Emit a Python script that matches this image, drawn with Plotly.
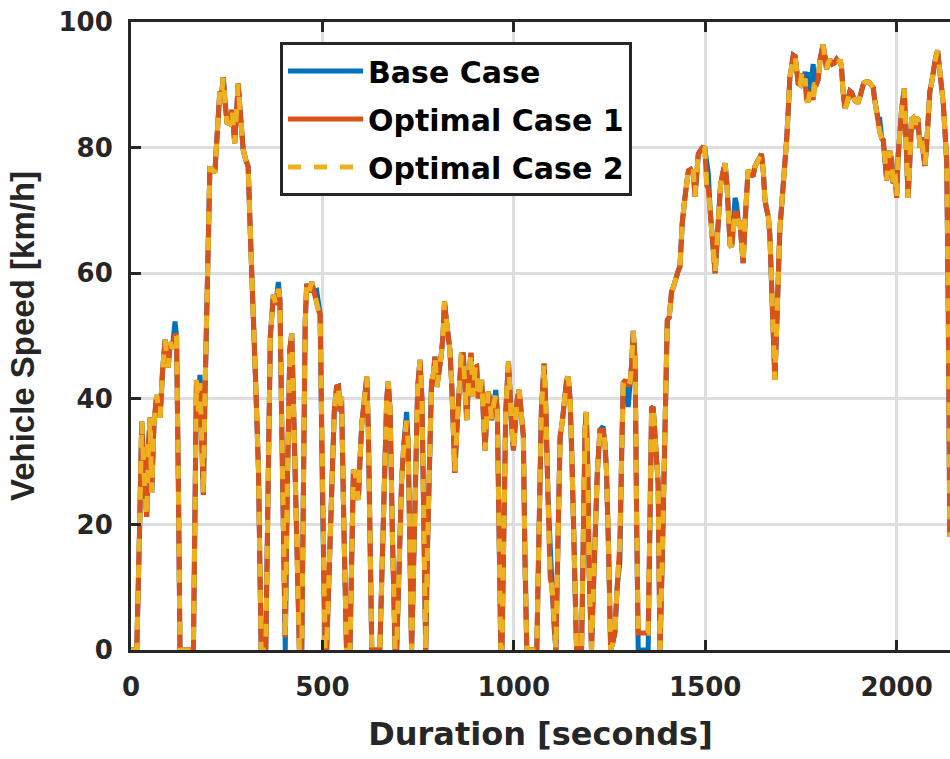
import plotly.graph_objects as go

# Drive-cycle speed trace (time in s, speed in km/h)
time_s = [
    0, 15, 22, 28, 34, 41, 46, 50, 54, 60, 67, 72, 76, 82, 89, 93, 97, 103, 108, 115,
    119, 124, 128, 163, 167, 171, 176, 180, 184, 189, 193, 198, 202, 206, 212, 219, 225, 232, 236, 241,
    246, 251, 258, 264, 271, 276, 280, 285, 293, 300, 306, 312, 319, 326, 333, 340, 352, 358, 364, 372,
    378, 385, 389, 394, 400, 403, 408, 415, 420, 424, 428, 434, 440, 446, 451, 455, 459, 465, 472, 478,
    485, 490, 494, 500, 507, 511, 518, 525, 531, 537, 542, 546, 550, 556, 563, 572, 577, 581, 586, 590,
    594, 598, 603, 610, 616, 620, 625, 629, 650, 656, 663, 668, 672, 677, 683, 690, 694, 699, 707, 713,
    720, 724, 726, 729, 733, 737, 743, 749, 755, 760, 765, 770, 774, 780, 785, 790, 794, 799, 805, 810,
    815, 819, 823, 828, 833, 838, 842, 846, 852, 858, 863, 868, 872, 877, 882, 888, 894, 899, 903, 907,
    911, 916, 920, 925, 929, 933, 937, 942, 947, 953, 957, 960, 964, 966, 969, 973, 979, 986, 990, 995,
    999, 1004, 1009, 1014, 1019, 1025, 1029, 1034, 1060, 1066, 1072, 1079, 1084, 1089, 1095, 1100, 1106, 1110, 1113, 1117,
    1121, 1126, 1132, 1138, 1142, 1147, 1152, 1158, 1164, 1177, 1181, 1186, 1189, 1193, 1197, 1203, 1207, 1212, 1218, 1225,
    1233, 1238, 1242, 1248, 1253, 1258, 1264, 1270, 1277, 1282, 1286, 1292, 1299, 1304, 1308, 1312, 1317, 1321, 1325, 1351,
    1356, 1360, 1364, 1370, 1377, 1380, 1382, 1388, 1395, 1401, 1406, 1412, 1418, 1424, 1430, 1434, 1440, 1447, 1452, 1456,
    1462, 1466, 1469, 1473, 1477, 1482, 1486, 1493, 1499, 1504, 1508, 1513, 1518, 1523, 1526, 1531, 1536, 1540, 1546, 1552,
    1557, 1561, 1565, 1569, 1574, 1578, 1582, 1587, 1591, 1595, 1599, 1604, 1608, 1612, 1617, 1621, 1625, 1630, 1634, 1640,
    1647, 1652, 1656, 1661, 1665, 1669, 1673, 1678, 1682, 1686, 1691, 1695, 1700, 1704, 1709, 1713, 1717, 1721, 1726, 1730,
    1735, 1739, 1743, 1748, 1752, 1756, 1761, 1765, 1769, 1774, 1778, 1782, 1786, 1790, 1795, 1800, 1808, 1813, 1817, 1821,
    1826, 1832, 1838, 1843, 1848, 1852, 1856, 1860, 1865, 1869, 1874, 1878, 1882, 1887, 1891, 1895, 1900, 1904, 1909, 1914,
    1921, 1926, 1930, 1934, 1939, 1943, 1947, 1952, 1956, 1961, 1965, 1970, 1974, 1978, 1982, 1987, 1991, 1996, 2000, 2004,
    2008, 2013, 2020, 2025, 2030, 2034, 2039, 2043, 2048, 2052, 2056, 2061, 2065, 2070, 2074, 2078, 2083, 2087, 2092, 2096,
    2101, 2107, 2112, 2117, 2122, 2126, 2131, 2135, 2139,
]

speed_base = [
    0, 0, 18, 36.4, 28, 21.2, 33, 37, 25, 36, 40.6, 38, 37, 44, 49.4, 47, 45, 49, 48, 52.3,
    50, 25, 0, 0, 20, 43, 38, 43.8, 35, 24.7, 40, 55, 65.4, 76.6, 76.5, 76, 82, 88.9, 88, 91.2,
    87, 84, 83.8, 86, 80.7, 86, 90.2, 86, 79.7, 78, 77, 66, 55.9, 42, 28.7, 0, 0, 28, 50, 56.6,
    55, 58.6, 55.9, 35, 0, 0, 25, 48, 50.4, 40, 30, 12, 0, 0, 30, 52, 58.3, 57, 58.6, 57,
    57.2, 54, 53.5, 25, 0, 0, 12, 28, 38, 41.9, 42, 38, 40.3, 20, 0, 0, 15, 28.7, 28, 26,
    23.9, 30, 36.1, 40, 43.5, 35, 15, 0, 0, 15, 32, 40, 42.7, 38, 18, 0, 0, 12, 27, 33,
    37.9, 33, 25, 12, 0, 10, 30, 42, 46.2, 40, 20, 0, 15, 35, 42.5, 44, 46.7, 41.9, 44, 46.7,
    50, 55.5, 53, 50, 47.8, 42, 34, 28.2, 36, 43, 47, 47, 42, 36.6, 43, 47.3, 40.3, 45, 45.1, 40.1,
    41, 43, 38, 31.8, 37, 41.1, 40, 36.6, 39, 41.4, 38, 22, 5, 0, 0, 20, 38, 45.9, 40, 35,
    31.8, 36, 40, 41.4, 37, 34, 15, 0, 0, 18, 38, 45.6, 38, 25, 14, 10, 3, 0, 10, 25,
    34, 36, 40, 43, 43.5, 40, 30, 12, 0, 0, 20, 35, 37.9, 30, 12, 0, 8, 20.2, 28, 35,
    35.6, 33, 28.7, 15, 0, 1, 2.7, 10, 14, 32, 42.5, 43, 38.7, 42.8, 45.6, 50.8, 46, 20, 0, 0,
    25, 38.5, 38.7, 33, 26.6, 10, 0, 15, 38, 52.5, 53, 57, 58, 59.5, 60.5, 61, 68, 72, 75.5, 76.3,
    76.5, 76, 76.5, 72.2, 75, 79, 79.4, 80, 79.9, 76.5, 76, 70, 66, 61, 60, 65, 70, 74, 76, 77.5,
    74, 68, 64.5, 64.2, 68, 72, 71, 68, 68, 64, 61.6, 68, 73.5, 76.4, 76, 75.5, 75.4, 77, 77.5, 78,
    79, 76, 71.7, 70, 69, 66, 58, 50, 43, 50, 60, 67, 71, 74, 77, 81.5, 86, 91, 93, 94.7,
    94.5, 92, 90.2, 90, 91.8, 90, 92.1, 87.6, 87.3, 92, 91, 93.3, 90, 90, 90.8, 94, 96.4, 94.5, 92.5, 93.5,
    94, 93.3, 93.5, 94, 93.5, 94, 92.9, 89, 86.3, 86.8, 88.5, 89, 88.8, 87.8, 87.5, 87.3, 87.3, 88, 89.5, 90.3,
    90.5, 90.5, 90.3, 90, 89.5, 87.5, 85.5, 84.5, 84.5, 81.5, 81.2, 78, 74.8, 77, 79.5, 78, 74.3, 76, 72, 78.6,
    82, 86, 89.4, 80, 72, 77, 84.5, 84.7, 83, 84.8, 84.5, 80, 81.6, 79, 77.1, 80, 85, 89, 90.5, 92.5,
    94, 95.5, 93, 90, 87, 83, 77.5, 54, 18,
]

# Speeds (km/h) where the optimised runs depart from the base run
optimal_speed_at = {
    115: 50.3, 180: 42.5, 385: 57.5, 400: 2, 403: 2, 485: 55, 720: 36.5,
    953: 40.5, 1095: 11.5, 1233: 35, 1277: 17, 1299: 42, 1325: 2.7, 1351: 2.7,
    1504: 74, 1508: 73.5, 1578: 69.6, 1582: 69.6, 1761: 91, 1774: 89,
    1778: 88, 1782: 87.6, 1952: 84, 1956: 82.5,
}
speed_opt1 = [optimal_speed_at.get(t, v) for t, v in zip(time_s, speed_base)]
speed_opt2 = list(speed_opt1)

series_names = ["Base Case", "Optimal Case 1", "Optimal Case 2"]
x_ticks = [0, 500, 1000, 1500, 2000]
y_ticks = [0, 20, 40, 60, 80, 100]

AXIS_COLOR = "#262626"
GRID_COLOR = "#DEDEDE"

fig = go.Figure()
fig.add_trace(go.Scatter(
    x=time_s, y=speed_base, mode="lines", name=series_names[0],
    line=dict(color="#0072BD", width=5), legendgroup="a",
))
fig.add_trace(go.Scatter(
    x=time_s, y=speed_opt1, mode="lines", name=series_names[1],
    line=dict(color="#D95319", width=5), legendgroup="b",
))
fig.add_trace(go.Scatter(
    x=time_s, y=speed_opt2, mode="lines", name=series_names[2],
    line=dict(color="#EDB120", width=5, dash="13px,13px"), legendgroup="c",
))

tick_font = dict(family="DejaVu Sans", size=26, color=AXIS_COLOR, weight="bold")

fig.update_layout(
    width=950, height=759,
    margin=dict(l=131, r=0, t=22, b=109, autoexpand=False),
    paper_bgcolor="white", plot_bgcolor="white",
    showlegend=True,
    legend=dict(
        x=(280 - 131) / 819, y=(650 - 42) / 628, xanchor="left", yanchor="top",
        bgcolor="white", bordercolor=AXIS_COLOR, borderwidth=3,
        font=dict(family="DejaVu Sans", size=30, color="black", weight="bold"),
        itemwidth=75, tracegroupgap=6,
    ),
    xaxis=dict(
        range=[0, 2139.5], tickvals=x_ticks, ticks="inside", ticklen=10, tickwidth=3,
        tickcolor=AXIS_COLOR, showline=True, linecolor=AXIS_COLOR, linewidth=3,
        mirror="ticks", showgrid=True, gridcolor=GRID_COLOR, gridwidth=3,
        zeroline=False, tickfont=tick_font, ticklabelstandoff=12,
        title=dict(text="Duration [seconds]", standoff=22,
                   font=dict(family="DejaVu Sans", size=32, color=AXIS_COLOR, weight="bold")),
    ),
    yaxis=dict(
        range=[0, 100], tickvals=y_ticks, ticks="inside", ticklen=10, tickwidth=3,
        tickcolor=AXIS_COLOR, showline=True, linecolor=AXIS_COLOR, linewidth=3,
        mirror=False, showgrid=True, gridcolor=GRID_COLOR, gridwidth=3,
        zeroline=False, tickfont=tick_font, ticklabelstandoff=10,
        title=dict(text="Vehicle Speed [km/h]", standoff=14,
                   font=dict(family="Liberation Sans", size=33, color=AXIS_COLOR, weight="bold")),
    ),
)

fig.write_html("out.html")
